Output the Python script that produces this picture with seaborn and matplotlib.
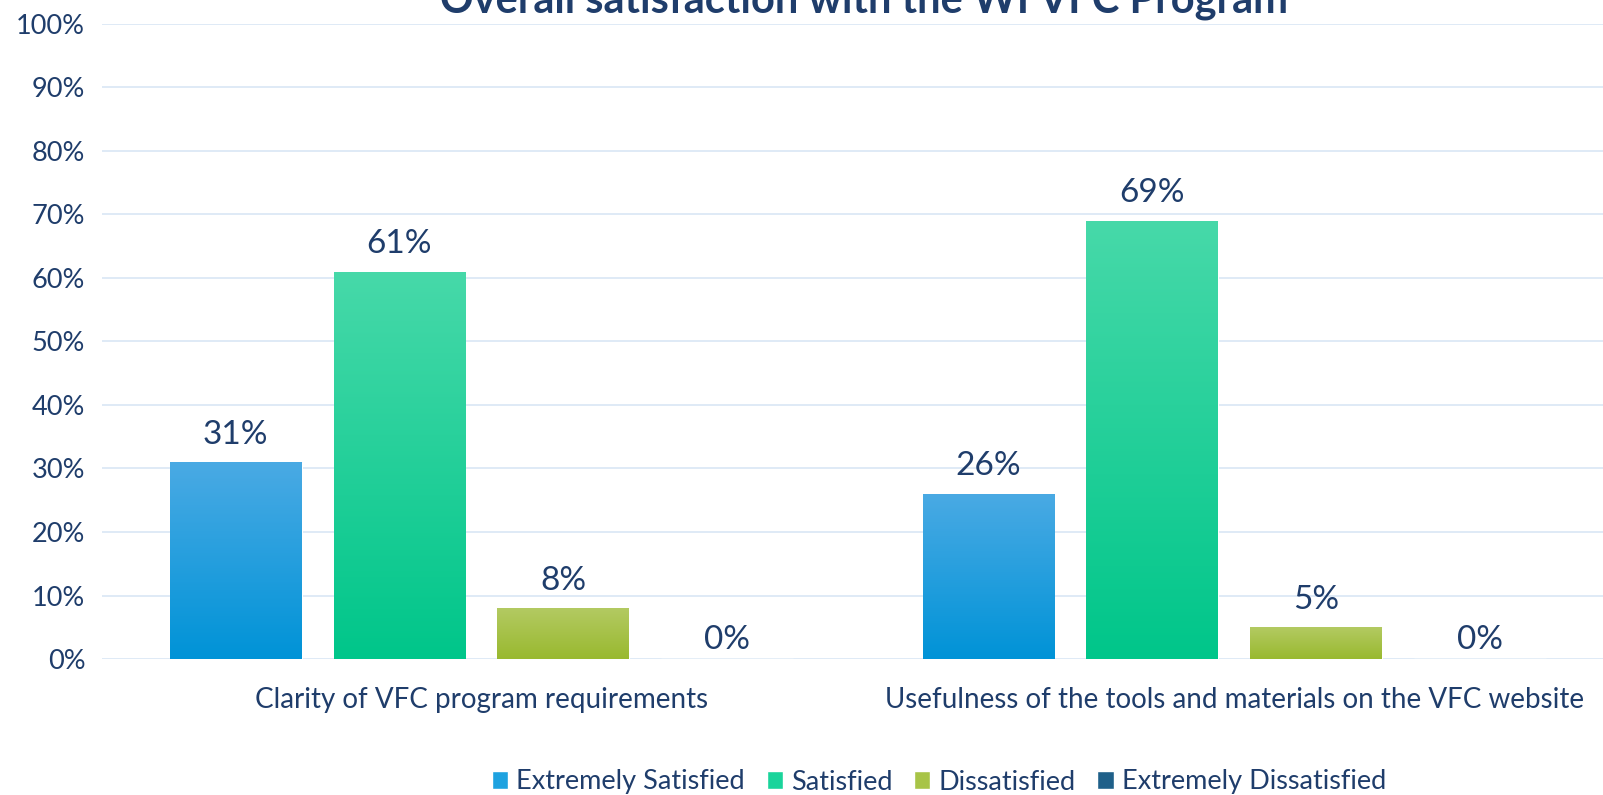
import numpy as np
import pandas as pd
import matplotlib
matplotlib.use("Agg")
import matplotlib.pyplot as plt
import seaborn as sns
from matplotlib.colors import LinearSegmentedColormap
from matplotlib.patches import Rectangle

categories = ["Clarity of VFC program requirements",
              "Usefulness of the tools and materials on the VFC website"]
series = ["Extremely Satisfied", "Satisfied", "Dissatisfied", "Extremely Dissatisfied"]
extremely_satisfied = [31, 26]
satisfied = [61, 69]
dissatisfied = [8, 5]
extremely_dissatisfied = [0, 0]
yticks = [0, 10, 20, 30, 40, 50, 60, 70, 80, 90, 100]
title = "Overall satisfaction with the WI VFC Program"

top_colors = ["#4AAAE4", "#47D9A9", "#B3CA62", "#2A6A92"]
bot_colors = ["#0093D7", "#00C68A", "#99B92F", "#155A82"]
mid_colors = ["#1EA2E0", "#1AD49B", "#A8C447", "#1F6089"]
text_color = "#1F3D6B"

values = [extremely_satisfied, satisfied, dissatisfied, extremely_dissatisfied]
df = pd.DataFrame({
    "category": np.repeat(categories, len(series)),
    "series": series * len(categories),
    "value": [values[s][c] for c in range(len(categories)) for s in range(len(series))],
})

sns.set_theme(style="white")
plt.rcParams["font.family"] = ["Lato", "DejaVu Sans"]

fig = plt.figure(figsize=(16.03, 7.95), dpi=100)
ax = fig.add_axes([0.0636, 0.171, 0.9364, 0.799])

sns.barplot(data=df, x="category", y="value", hue="series", order=categories,
            hue_order=series, palette=mid_colors, width=0.87, gap=0.195,
            ax=ax, legend=False)

ax.set_ylim(0, 100)
ax.set_xlim(-0.504, 1.49)
ax.set_yticks(yticks)
ax.set_yticklabels([f"{v}%" for v in yticks])
ax.yaxis.grid(True, color="#DCE8F6", linewidth=1.3)
ax.set_axisbelow(True)
for s in ax.spines.values():
    s.set_visible(False)
ax.tick_params(axis="y", length=0, labelsize=19.5, labelcolor=text_color, pad=12)
ax.tick_params(axis="x", length=0, labelsize=20, labelcolor=text_color, pad=20)
ax.set_xlabel("")
ax.set_ylabel("")

# gradient fills clipped to bars
for i, cont in enumerate(ax.containers):
    cmap = LinearSegmentedColormap.from_list(f"g{i}", [bot_colors[i], top_colors[i]])
    for p in cont.patches:
        x0, y0 = p.get_x(), p.get_y()
        w, h = p.get_width(), p.get_height()
        if h <= 0:
            continue
        p.set_edgecolor("#FFFFFF")
        p.set_linewidth(0.8)
        grad = np.linspace(0, 1, 256).reshape(-1, 1)
        im = ax.imshow(grad, cmap=cmap, origin="lower", aspect="auto",
                       extent=[x0, x0 + w, y0, y0 + h], zorder=p.get_zorder() + 0.1)
        im.set_clip_path(p)
    pad = 3 if max(cont.datavalues) == 0 else 9
    ax.bar_label(cont, labels=[f"{v:.0f}%" for v in cont.datavalues],
                 padding=pad, fontsize=24, color=text_color)

ax.set_xlim(-0.504, 1.49)
ax.set_ylim(0, 100)

fig.text(0.539, 1 - 13 / 795, title, ha="center", va="baseline",
         fontsize=30, fontweight="bold", color=text_color)

handles = [Rectangle((0, 0), 1, 1, facecolor=mid_colors[i]) for i in range(len(series))]
leg = fig.legend(handles, series, loc="center", bbox_to_anchor=(939 / 1603, 1 - 782 / 795),
                 ncol=4, frameon=False, fontsize=19.5, handlelength=0.6, handleheight=0.6,
                 handletextpad=0.3, columnspacing=0.8)
for t in leg.get_texts():
    t.set_color(text_color)

fig.savefig("out.png", dpi=100)
